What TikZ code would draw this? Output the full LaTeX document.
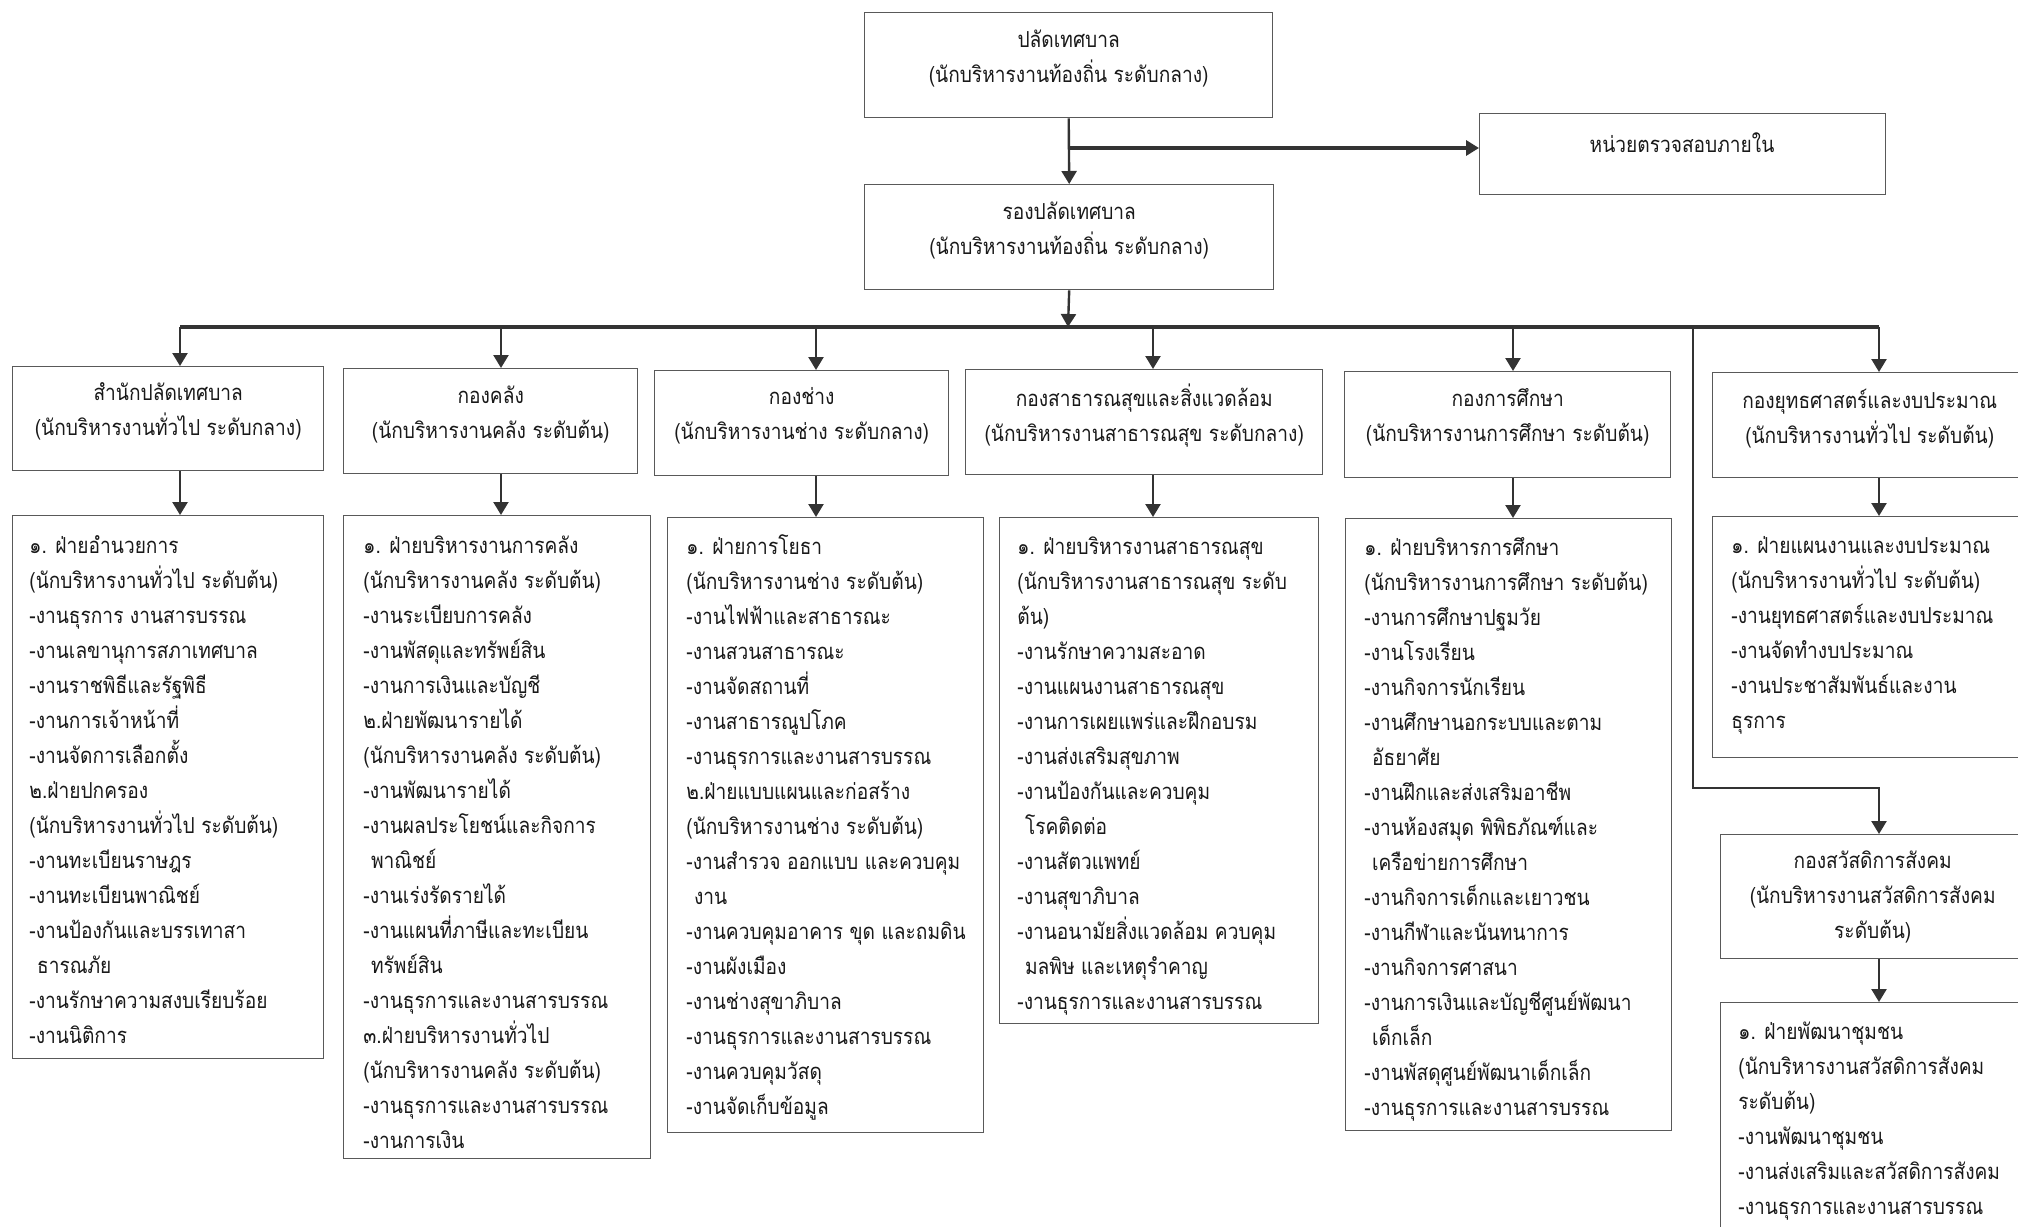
\documentclass[tikz,border=0pt]{standalone}
\usepackage{fontspec}
\newfontfamily\thaifont[Script=Thai,FakeStretch=0.87]{Loma}
\usetikzlibrary{arrows.meta}
\newcommand{\lst}[1]{\parbox[t]{300pt}{\raggedright #1}}
\newcommand{\ind}{\hspace*{0.35em}}
\begin{document}
\begin{tikzpicture}[x=0.5pt,y=-0.5pt,
  box/.style={draw=black!65, line width=0.7pt, inner sep=0pt, anchor=north west},
  ttl/.style={inner sep=0pt, anchor=center, align=center,
    font=\thaifont\fontsize{11}{17.5}\selectfont, text=black!90},
  lsttext/.style={inner sep=0pt, anchor=base west,
    font=\thaifont\fontsize{11}{17.5}\selectfont, text=black!90},
  conn/.style={draw=black!80, line width=1.2pt},
  arr/.style={conn, -{Triangle[length=6.5pt,width=7.5pt]}},
]
\clip (0,0) rectangle (2018,1226);
\fill[white] (0,0) rectangle (2018,1226);

% top
\node[box, minimum width=204pt, minimum height=52.5pt] (T) at (864,12) {};
\node[ttl] (Tt) at ([yshift=3.5pt]T.center)
  {ปลัดเทศบาล\\(นักบริหารงานท้องถิ่น ระดับกลาง)};
\node[box, minimum width=203pt, minimum height=40.5pt] (A) at (1479,113) {};
\node[ttl] (At) at (1682,143) {หน่วยตรวจสอบภายใน};
\node[box, minimum width=204.5pt, minimum height=52.5pt] (R) at (864,184) {};
\node[ttl] (Rt) at ([yshift=3.5pt]R.center)
  {รองปลัดเทศบาล\\(นักบริหารงานท้องถิ่น ระดับกลาง)};

% level 2
\node[box, minimum width=155.5pt, minimum height=52pt] (D1) at (12,366) {};
\node[ttl] (D1t) at ([yshift=3.5pt]D1.center)
  {สำนักปลัดเทศบาล\\(นักบริหารงานทั่วไป ระดับกลาง)};
\node[box, minimum width=147pt, minimum height=52.5pt] (D2) at (343,368) {};
\node[ttl] (D2t) at ([yshift=3.5pt]D2.center)
  {กองคลัง\\(นักบริหารงานคลัง ระดับต้น)};
\node[box, minimum width=147pt, minimum height=52.5pt] (D3) at (654,370) {};
\node[ttl] (D3t) at ([yshift=3.5pt]D3.center)
  {กองช่าง\\(นักบริหารงานช่าง ระดับกลาง)};
\node[box, minimum width=178.5pt, minimum height=52.5pt] (D4) at (965,369) {};
\node[ttl] (D4t) at ([yshift=3.5pt]D4.center)
  {กองสาธารณสุขและสิ่งแวดล้อม\\(นักบริหารงานสาธารณสุข ระดับกลาง)};
\node[box, minimum width=163pt, minimum height=53pt] (D5) at (1344,371) {};
\node[ttl] (D5t) at ([yshift=3.5pt]D5.center)
  {กองการศึกษา\\(นักบริหารงานการศึกษา ระดับต้น)};
\node[box, minimum width=165pt, minimum height=52.5pt] (D6) at (1712,372) {};
\node[ttl] (D6t) at ([xshift=-4pt,yshift=3.5pt]D6.center)
  {กองยุทธศาสตร์และงบประมาณ\\(นักบริหารงานทั่วไป ระดับต้น)};
\node[box, minimum width=160pt, minimum height=62pt] (D7) at (1720,834) {};
\node[ttl] (D7t) at ([xshift=-4pt]D7.center)
  {กองสวัสดิการสังคม\\(นักบริหารงานสวัสดิการสังคม\\ระดับต้น)};

% level 3 boxes
\node[box, minimum width=155.5pt, minimum height=271.5pt] (L1) at (12,515) {};
\node[box, minimum width=153.5pt, minimum height=321.5pt] (L2) at (343,515) {};
\node[box, minimum width=158pt, minimum height=307.5pt] (L3) at (667,517) {};
\node[box, minimum width=159.5pt, minimum height=253pt] (L4) at (999,517) {};
\node[box, minimum width=163pt, minimum height=306pt] (L5) at (1345,518) {};
\node[box, minimum width=165pt, minimum height=120.5pt] (L6) at (1712,516) {};
\node[box, minimum width=160pt, minimum height=130pt] (L7) at (1720,1002) {};

% level 3 texts
\node[lsttext] (L1t) at (29,553) {\lst{%
๑. ฝ่ายอำนวยการ\\
(นักบริหารงานทั่วไป ระดับต้น)\\
-งานธุรการ งานสารบรรณ\\
-งานเลขานุการสภาเทศบาล\\
-งานราชพิธีและรัฐพิธี\\
-งานการเจ้าหน้าที่\\
-งานจัดการเลือกตั้ง\\
๒.ฝ่ายปกครอง\\
(นักบริหารงานทั่วไป ระดับต้น)\\
-งานทะเบียนราษฎร\\
-งานทะเบียนพาณิชย์\\
-งานป้องกันและบรรเทาสา\\
\ind ธารณภัย\\
-งานรักษาความสงบเรียบร้อย\\
-งานนิติการ}};

\node[lsttext] (L2t) at (363,553) {\lst{%
๑. ฝ่ายบริหารงานการคลัง\\
(นักบริหารงานคลัง ระดับต้น)\\
-งานระเบียบการคลัง\\
-งานพัสดุและทรัพย์สิน\\
-งานการเงินและบัญชี\\
๒.ฝ่ายพัฒนารายได้\\
(นักบริหารงานคลัง ระดับต้น)\\
-งานพัฒนารายได้\\
-งานผลประโยชน์และกิจการ\\
\ind พาณิชย์\\
-งานเร่งรัดรายได้\\
-งานแผนที่ภาษีและทะเบียน\\
\ind ทรัพย์สิน\\
-งานธุรการและงานสารบรรณ\\
๓.ฝ่ายบริหารงานทั่วไป\\
(นักบริหารงานคลัง ระดับต้น)\\
-งานธุรการและงานสารบรรณ\\
-งานการเงิน}};

\node[lsttext] (L3t) at (686,554) {\lst{%
๑. ฝ่ายการโยธา\\
(นักบริหารงานช่าง ระดับต้น)\\
-งานไฟฟ้าและสาธารณะ\\
-งานสวนสาธารณะ\\
-งานจัดสถานที่\\
-งานสาธารณูปโภค\\
-งานธุรการและงานสารบรรณ\\
๒.ฝ่ายแบบแผนและก่อสร้าง\\
(นักบริหารงานช่าง ระดับต้น)\\
-งานสำรวจ ออกแบบ และควบคุม\\
\ind งาน\\
-งานควบคุมอาคาร ขุด และถมดิน\\
-งานผังเมือง\\
-งานช่างสุขาภิบาล\\
-งานธุรการและงานสารบรรณ\\
-งานควบคุมวัสดุ\\
-งานจัดเก็บข้อมูล}};

\node[lsttext] (L4t) at (1017,554) {\lst{%
๑. ฝ่ายบริหารงานสาธารณสุข\\
(นักบริหารงานสาธารณสุข ระดับ\\
ต้น)\\
-งานรักษาความสะอาด\\
-งานแผนงานสาธารณสุข\\
-งานการเผยแพร่และฝึกอบรม\\
-งานส่งเสริมสุขภาพ\\
-งานป้องกันและควบคุม\\
\ind โรคติดต่อ\\
-งานสัตวแพทย์\\
-งานสุขาภิบาล\\
-งานอนามัยสิ่งแวดล้อม ควบคุม\\
\ind มลพิษ และเหตุรำคาญ\\
-งานธุรการและงานสารบรรณ}};

\node[lsttext] (L5t) at (1364,555) {\lst{%
๑. ฝ่ายบริหารการศึกษา\\
(นักบริหารงานการศึกษา ระดับต้น)\\
-งานการศึกษาปฐมวัย\\
-งานโรงเรียน\\
-งานกิจการนักเรียน\\
-งานศึกษานอกระบบและตาม\\
\ind อัธยาศัย\\
-งานฝึกและส่งเสริมอาชีพ\\
-งานห้องสมุด พิพิธภัณฑ์และ\\
\ind เครือข่ายการศึกษา\\
-งานกิจการเด็กและเยาวชน\\
-งานกีฬาและนันทนาการ\\
-งานกิจการศาสนา\\
-งานการเงินและบัญชีศูนย์พัฒนา\\
\ind เด็กเล็ก\\
-งานพัสดุศูนย์พัฒนาเด็กเล็ก\\
-งานธุรการและงานสารบรรณ}};

\node[lsttext] (L6t) at (1731,553) {\lst{%
๑. ฝ่ายแผนงานและงบประมาณ\\
(นักบริหารงานทั่วไป ระดับต้น)\\
-งานยุทธศาสตร์และงบประมาณ\\
-งานจัดทำงบประมาณ\\
-งานประชาสัมพันธ์และงาน\\
ธุรการ}};

\node[lsttext] (L7t) at (1738,1039) {\lst{%
๑. ฝ่ายพัฒนาชุมชน\\
(นักบริหารงานสวัสดิการสังคม\\
ระดับต้น)\\
-งานพัฒนาชุมชน\\
-งานส่งเสริมและสวัสดิการสังคม\\
-งานธุรการและงานสารบรรณ}};

% connectors
\coordinate (j1) at (1068,148);
\coordinate (bc) at (1068,327);
\coordinate (b1) at (180,327);
\coordinate (b2) at (501,327);
\coordinate (b3) at (816,327);
\coordinate (b4) at (1153,327);
\coordinate (b5) at (1513,327);
\coordinate (b6) at (1879,327);
\coordinate (b7) at (1693,327);
\coordinate (k) at (1693,788);

\draw[arr] (T.south) -- (R.north);
\draw[arr, line width=1.8pt] (j1) -- (j1 -| A.west);
\draw[arr] (R.south) -- (bc);
\draw[conn, line width=1.6pt] (b1) -- (b6);
\foreach \i in {1,...,6}{
  \draw[arr] (b\i) -- (b\i |- D\i.north);
  \draw[arr] (b\i |- D\i.south) -- (b\i |- L\i.north);
}
\draw[arr] (b7) -- (k) -- (k -| b6) -- (b6 |- D7.north);
\draw[arr] (b6 |- D7.south) -- (b6 |- L7.north);
\end{tikzpicture}
\end{document}
